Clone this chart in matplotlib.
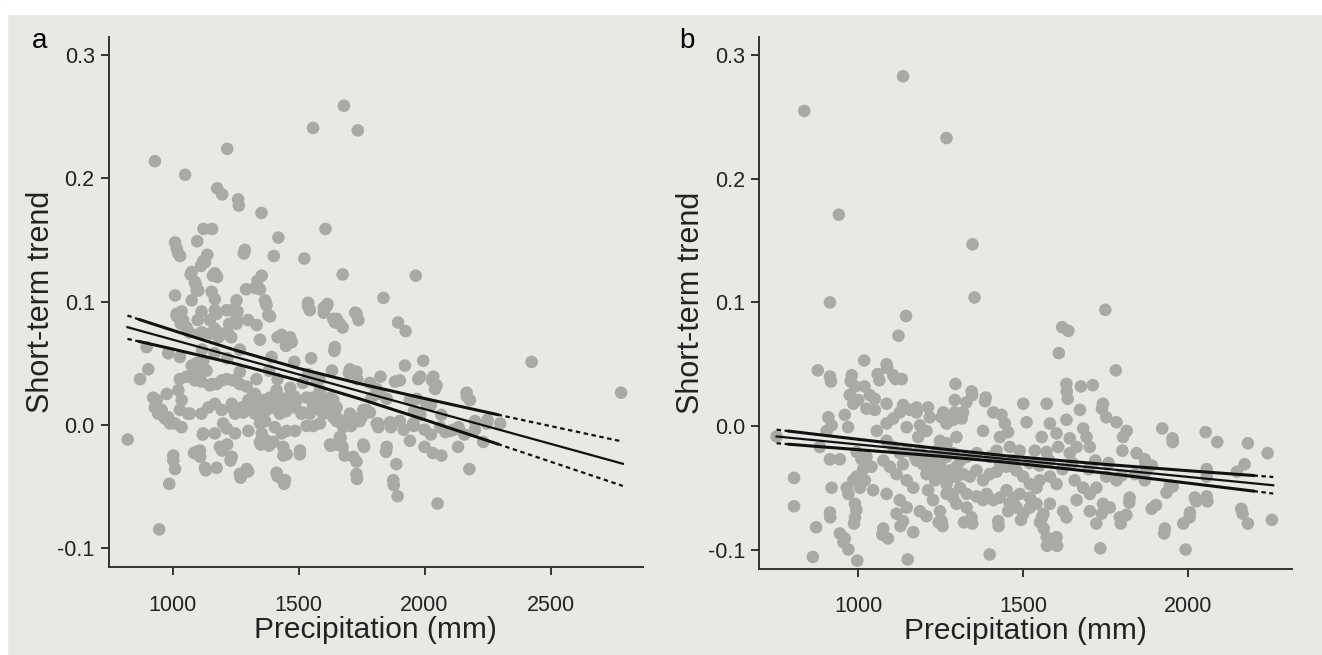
import matplotlib
matplotlib.use('Agg')
import matplotlib.pyplot as plt
from matplotlib.patches import Rectangle

plt.rcParams['font.family'] = ['Liberation Sans', 'DejaVu Sans']

# ---- panel a: precipitation (mm) vs short-term trend ----
a_x = [822, 930, 1050, 1217, 1558, 1680, 1735, 1177, 1197, 1260, 1263, 1353, 1010, 1017, 1030,
       1098, 1123, 1157, 1283, 1420, 1402, 1523, 1607, 1675, 1965, 1837, 2425, 2780, 1138, 1122,
       1113, 1072, 1092, 1102, 1160, 1177, 1337, 1347, 1327, 1292, 1370, 1387, 1538, 1545, 1600,
       1615, 1600, 1725, 1738, 1645, 1675, 1895, 1925, 1642, 1922, 1995, 2168, 2180, 2250, 2300,
       2133, 2178, 2052, 1878, 1893, 1888, 1847, 1730, 1732, 1683, 1760, 1627, 1505, 1443, 1440,
       1417, 1230, 1175, 1132, 1085, 1110, 1003, 1010, 987, 947, 1270, 1300, 1350, 1383, 1400,
       1197, 1217, 1120,
       897, 904, 871, 983, 1029, 923, 937, 930, 957, 970, 990, 977, 1023, 1036, 1029,
       1062, 1003, 1029, 1056, 1082, 1109, 1135, 1115, 1148, 1175, 1195, 1215, 1241, 1267, 1294,
       1096, 1109, 1122, 1016, 1042, 1056, 1109, 1148, 1175, 1215, 1254, 1148, 1175, 1201, 1221,
       1254, 1334, 1380, 1433, 1473, 1347, 1122, 1201, 1215, 1235, 1254, 1281, 1314, 1334, 1360,
       1387, 1413, 1426, 1400, 1347, 1301, 1109, 1096, 1188, 1235, 1129, 1267, 1294, 1413, 1446,
       1506, 1558, 1532, 1453, 1347, 1373, 1439, 1453, 1334, 1373, 1426, 1453, 1493, 1532, 1558,
       1585, 1611, 1638, 1651, 1677, 1664, 1625, 1690, 1730, 1770, 1810, 1863, 1717, 1730, 1757,
       1850, 1876, 1644, 1730, 1664, 1638, 1611, 1538,
       1023, 1129, 1076, 1168, 1089, 1096, 1010, 1076, 1155, 1168, 1254, 1287, 1354, 1367, 1373,
       1036, 1115, 1168, 1235, 1466, 1254, 1393, 1076, 1089, 1155, 1267,
       943, 983, 1010, 1036, 1069, 1115, 1142, 1168, 1195, 1235, 1248, 1274, 1301, 1327, 1393,
       1433, 1459, 1486, 1512, 1327, 1367, 1406, 1168, 1248, 1354, 1433, 1486,
       1651, 1704, 1730, 1902, 1975, 2035, 2048, 2167, 1810, 1823, 1790, 1850, 1942, 1969, 2008,
       1638, 1717, 1757, 1816, 1902, 1955, 2062, 2101, 2135, 2247, 1538, 1572, 1585, 1598, 1625,
       1651, 1558, 1545, 1598, 1651, 1704, 1743, 1585,
       1683, 1708, 1750, 1783, 1817, 1867, 1917, 1958, 2000, 2025, 2083, 2117, 2158, 2200, 2233,
       1667, 1675, 1650, 1942, 2000, 2033, 2067, 1983, 2030, 2042, 2025, 1958, 1983, 2067, 2200,
       1333, 1383, 1417, 1467, 1483, 1517, 1317, 1367, 1417, 1450, 1517, 1558, 1483, 1550, 1450,
       1417, 1467, 1583, 1633, 1700, 1733, 1783, 1825, 1883,
       1033, 1017, 1067, 1117, 1100, 1183, 1233, 1167, 1225, 1258, 1300, 1117, 1167, 1217, 1267]
a_y = [-0.012, 0.214, 0.203, 0.224, 0.241, 0.259, 0.239, 0.192, 0.187, 0.183, 0.178, 0.172, 0.148, 0.143, 0.137,
       0.149, 0.159, 0.159, 0.139, 0.152, 0.137, 0.135, 0.159, 0.122, 0.121, 0.103, 0.051, 0.026, 0.138, 0.133,
       0.129, 0.122, 0.114, 0.109, 0.121, 0.120, 0.117, 0.110, 0.111, 0.110, 0.099, 0.088, 0.099, 0.093, 0.095,
       0.098, 0.091, 0.091, 0.085, 0.083, 0.079, 0.083, 0.076, 0.060, 0.048, 0.052, 0.023, 0.020, 0.004, 0.001,
       -0.018, -0.036, -0.064, -0.049, -0.058, -0.032, -0.022, -0.030, -0.044, -0.025, -0.018, -0.017, -0.024, -0.048, -0.025,
       -0.042, -0.029, -0.035, -0.037, -0.023, -0.026, -0.029, -0.036, -0.048, -0.085, -0.043, -0.038, -0.016, -0.017, -0.014,
       -0.021, -0.016, -0.008,
       0.063, 0.045, 0.037, 0.058, 0.055, 0.022, 0.020, 0.014, 0.012, 0.005, 0.001, 0.025, 0.028, 0.020, 0.012,
       0.009, -0.025, 0.037, 0.039, 0.040, 0.043, 0.044, 0.035, 0.032, 0.033, 0.036, 0.037, 0.036, 0.033, 0.031,
       0.050, 0.047, 0.052, 0.090, 0.085, 0.079, 0.074, 0.085, 0.090, 0.093, 0.090, 0.074, 0.075, 0.074, 0.074,
       0.082, 0.081, 0.089, 0.073, 0.067, 0.069, -0.007, 0.001, -0.003, 0.014, 0.012, 0.010, 0.013, 0.016, 0.020,
       0.022, 0.028, 0.022, 0.014, 0.001, -0.005, -0.021, -0.022, -0.018, -0.026, -0.035, -0.040, -0.036, -0.039, -0.045,
       -0.021, -0.001, -0.001, -0.005, -0.014, -0.013, -0.018, -0.024, 0.009, 0.012, 0.009, 0.020, 0.020, 0.022, 0.014,
       0.012, 0.012, 0.020, 0.006, -0.002, -0.010, -0.016, 0.003, 0.003, 0.012, 0.001, 0.002, -0.026, -0.040, -0.016,
       -0.018, -0.045, 0.063, 0.090, 0.082, 0.086, 0.096, 0.096,
       0.139, 0.132, 0.124, 0.123, 0.116, 0.109, 0.105, 0.101, 0.108, 0.102, 0.101, 0.142, 0.121, 0.101, 0.097,
       0.092, 0.092, 0.093, 0.093, 0.069, 0.085, 0.055, 0.048, 0.036, 0.033, 0.043,
       0.009, 0.006, 0.001, -0.002, 0.009, 0.009, 0.014, 0.017, 0.012, 0.017, 0.009, 0.014, 0.020, 0.025, 0.017,
       0.020, 0.022, 0.014, 0.009, 0.009, 0.003, -0.002, -0.007, -0.007, -0.007, -0.007, -0.005,
       0.086, 0.045, 0.043, 0.036, 0.037, 0.039, 0.032, 0.026, 0.029, 0.025, 0.022, 0.021, 0.020, 0.021, 0.017,
       0.006, 0.006, 0.012, 0.001, 0.003, 0.001, -0.002, -0.005, -0.002, 0.001, 0.041, 0.036, 0.028, 0.020, 0.022,
       0.014, 0.022, 0.009, 0.009, 0.003, 0.009, 0.003, 0.001,
       0.003, -0.001, 0.006, 0.010, -0.002, -0.002, -0.004, -0.001, -0.004, -0.008, -0.006, -0.004, -0.008, -0.004, -0.014,
       -0.011, -0.018, -0.016, -0.013, -0.018, -0.023, -0.025, 0.039, 0.036, 0.029, 0.016, 0.011, 0.008, 0.008, 0.003,
       0.037, 0.044, 0.037, 0.030, 0.023, 0.034, 0.023, 0.020, 0.016, 0.011, 0.010, 0.016, 0.051, 0.054, 0.064,
       0.071, 0.071, 0.037, 0.044, 0.042, 0.037, 0.034, 0.039, 0.035,
       0.082, 0.088, 0.075, 0.075, 0.085, 0.071, 0.071, 0.078, 0.082, 0.092, 0.085, 0.061, 0.058, 0.054, 0.061]

# fitted line and confidence band, panel a
a_fit_x = [821, 2787]
a_fit_y = [0.0792, -0.0317]
a_band_x = [821, 870, 1000, 1250, 1500, 1750, 2000, 2290, 2500, 2787]
a_upper = [0.0887, 0.0853, 0.0767, 0.0605, 0.0458, 0.0330, 0.0213, 0.0082, -0.0011, -0.0137]
a_lower = [0.0697, 0.0675, 0.0615, 0.0495, 0.0360, 0.0206, 0.0041, -0.0156, -0.0300, -0.0497]
a_solid = (1, 7)   # band looks solid between these band_x indices

# ---- panel b ----
b_x = [752, 836, 1136, 1268, 941, 914, 1347, 1353, 1145, 1122, 1750, 1619, 1638, 1609, 1782,
       877, 917, 1018, 1088, 1059, 1064, 1113, 1132, 977, 990, 1019, 1295, 1346, 1385, 1676,
       1712, 1633, 1636, 1740, 1923, 1955, 2055, 2090, 2183, 2243, 2173, 2150, 2060, 2026, 1987,
       2006, 1994, 1929, 1904, 1891, 1823, 1797, 1814, 1735, 2167, 2183, 2256, 1936, 1955, 1872,
       1891, 1604, 1573, 1563, 1558, 1399, 1426, 1150, 997, 862, 872, 805, 805, 915, 955,
       970, 987, 994, 1073, 1090, 1167, 1128, 1256, 1244, 1346, 1321, 1455, 1474, 1494,
       914, 1086, 980, 1106, 974, 985, 959, 969, 1000, 1035, 1050, 1025, 1050, 909, 919,
       904, 883, 914, 944, 1010, 1015, 995, 985, 1020, 1005, 919, 965, 970, 990, 914,
       990, 944, 959, 1045, 1086, 1076, 995, 1025, 1040, 1056, 1086, 1106, 1126, 1157, 1177,
       1147, 1187, 1207, 1182, 1086, 1106, 1126, 1147, 1172, 1136, 1076, 1096, 1116, 1147, 1167,
       1126, 1147, 1116, 1136, 1187, 1207, 1227, 1248, 1253, 1212, 1233, 1253, 1268, 1288, 1283,
       1298, 1268, 1238, 1268, 1298, 1217, 1253, 1268, 1288, 1293, 1293,
       1344, 1318, 1328, 1314, 1387, 1410, 1435, 1445, 1455, 1430, 1379, 1420, 1460, 1490, 1501,
       1511, 1572, 1557, 1582, 1602, 1632, 1673, 1743, 1753, 1784, 1815, 1804, 1632, 1642, 1683,
       1693, 1663, 1703, 1642, 1536, 1572, 1607,
       1278, 1298, 1318, 1339, 1359, 1379, 1399, 1420, 1450, 1480, 1501, 1521, 1541, 1551, 1582,
       1602, 1309, 1329, 1359, 1390, 1410, 1430, 1450, 1471, 1491, 1521, 1460, 1481, 1501, 1521,
       1329, 1298, 1344, 1425, 1379,
       1541, 1562, 1552, 1582, 1572, 1602, 1622, 1632, 1663, 1657, 1683, 1703, 1723, 1743, 1764,
       1703, 1739, 1723, 1794, 1824, 1753, 1784,
       1954, 1870, 1870, 1946, 2058, 2058, 2022, 2058, 2007, 1931, 2163,
       1248, 1227, 1207, 1197, 1177, 1187, 1207, 1227, 1248, 1288, 1268, 1288, 1086, 1136, 1177,
       1258, 1212, 1845, 1802, 1875, 1840,
       1400, 1430, 1470, 1520, 1550, 1580, 1620, 1650, 1700, 1720, 1760, 1800, 1330, 1360, 1310]
b_y = [-0.0085, 0.255, 0.283, 0.233, 0.171, 0.100, 0.147, 0.104, 0.089, 0.073, 0.094, 0.080, 0.077, 0.059, 0.045,
       0.045, 0.036, 0.053, 0.047, 0.042, 0.037, 0.038, 0.038, 0.036, 0.032, 0.032, 0.034, 0.025, 0.020, 0.032,
       0.033, 0.028, 0.022, 0.014, -0.002, -0.013, -0.005, -0.013, -0.014, -0.022, -0.031, -0.037, -0.061, -0.061, -0.079,
       -0.074, -0.100, -0.087, -0.064, -0.067, -0.062, -0.079, -0.072, -0.099, -0.071, -0.079, -0.076, -0.054, -0.049, -0.030,
       -0.032, -0.097, -0.097, -0.083, -0.074, -0.104, -0.081, -0.108, -0.109, -0.106, -0.082, -0.065, -0.042, -0.074, -0.094,
       -0.100, -0.079, -0.068, -0.088, -0.091, -0.086, -0.081, -0.081, -0.078, -0.079, -0.078, -0.069, -0.064, -0.076,
       0.040, 0.050, 0.041, 0.041, 0.025, 0.018, 0.009, -0.001, 0.021, 0.025, 0.022, 0.014, 0.013, 0.007, 0.0005,
       -0.004, -0.017, -0.027, -0.027, -0.027, -0.035, -0.041, -0.044, -0.044, -0.050, -0.050, -0.050, -0.055, -0.063, -0.070,
       -0.074, -0.087, -0.091, -0.052, -0.055, -0.083, -0.021, -0.025, -0.033, -0.004, 0.002, 0.006, 0.011, 0.013, 0.011,
       -0.001, 0.0005, -0.004, -0.009, -0.012, -0.017, -0.022, -0.020, -0.025, -0.031, -0.028, -0.033, -0.039, -0.044, -0.050,
       -0.060, -0.066, -0.071, -0.077, -0.069, -0.073, -0.060, -0.069, -0.077, -0.052, -0.044, -0.039, -0.047, -0.041, -0.055,
       -0.033, -0.025, -0.020, -0.014, -0.009, 0.007, 0.007, 0.002, 0.005, 0.021, 0.011,
       0.028, 0.011, 0.019, 0.006, 0.023, 0.011, 0.009, 0.002, -0.005, -0.009, -0.004, -0.020, -0.017, -0.020, 0.018,
       0.003, 0.018, -0.009, 0.002, -0.006, 0.034, 0.013, 0.018, 0.007, 0.003, -0.004, -0.009, 0.005, -0.010, -0.002,
       -0.009, -0.017, -0.017, -0.022, -0.020, -0.021, -0.017,
       -0.036, -0.041, -0.039, -0.041, -0.036, -0.044, -0.039, -0.037, -0.033, -0.036, -0.041, -0.047, -0.050, -0.044, -0.041,
       -0.047, -0.050, -0.055, -0.057, -0.055, -0.060, -0.058, -0.052, -0.058, -0.055, -0.058, -0.063, -0.066, -0.071, -0.066,
       -0.066, -0.063, -0.074, -0.077, -0.060,
       -0.063, -0.071, -0.078, -0.063, -0.090, -0.090, -0.069, -0.074, -0.060, -0.044, -0.050, -0.055, -0.050, -0.063, -0.066,
       -0.069, -0.071, -0.079, -0.074, -0.058, -0.041, -0.044,
       -0.010, -0.027, -0.044, -0.048, -0.035, -0.041, -0.058, -0.057, -0.070, -0.083, -0.067,
       -0.031, -0.036, -0.039, -0.031, -0.028, -0.020, -0.025, -0.028, -0.012, -0.022, -0.055, -0.058, 0.018, 0.017, 0.015,
       0.011, 0.015, -0.022, -0.020, -0.036, -0.039,
       -0.025, -0.030, -0.028, -0.030, -0.032, -0.028, -0.035, -0.030, -0.035, -0.028, -0.030, -0.040, -0.025, -0.022, -0.028]

b_fit_x = [752, 2260]
b_fit_y = [-0.0085, -0.0480]
b_band_x = [752, 790, 1000, 1250, 1450, 1750, 2000, 2200, 2260]
b_upper = [-0.0030, -0.0042, -0.0108, -0.0185, -0.0242, -0.0311, -0.0362, -0.0401, -0.0413]
b_lower = [-0.0140, -0.0148, -0.0192, -0.0245, -0.0294, -0.0381, -0.0462, -0.0527, -0.0547]
b_solid = (1, 7)

y_ticks = [-0.1, 0.0, 0.1, 0.2, 0.3]
y_labels = ['-0.1', '0.0', '0.1', '0.2', '0.3']

bg = '#e8e9e5'
dot = '#a8aaa5'
ink = '#222222'

fig = plt.figure(figsize=(13.22, 6.55), dpi=100, facecolor=bg)
fig.patches.append(Rectangle((0, 1 - 14 / 655), 1, 14 / 655, transform=fig.transFigure,
                             color='white', zorder=0))
fig.patches.append(Rectangle((0, 0), 7 / 1322, 1, transform=fig.transFigure,
                             color='white', zorder=0))


def draw_panel(ax, xs, ys, fit_x, fit_y, bx, up, lo, solid, xlim, xticks, letter, lx):
    ax.set_facecolor(bg)
    ax.scatter(xs, ys, s=82, color=dot, edgecolors='none', zorder=2)
    ax.plot(fit_x, fit_y, color='#111111', lw=1.6, zorder=3)
    i0, i1 = solid
    for band in (up, lo):
        # the band looks solid where data are dense, dashed at the ends
        ax.plot(bx[:i0 + 1], band[:i0 + 1], color='#111111', lw=1.6, ls=(0, (2, 1.6)), zorder=3)
        ax.plot(bx[i0:i1 + 1], band[i0:i1 + 1], color='#111111', lw=2.2, zorder=3)
        ax.plot(bx[i1:], band[i1:], color='#111111', lw=1.6, ls=(0, (2, 1.6)), zorder=3)
    ax.set_xlim(*xlim)
    ax.set_ylim(-0.1155, 0.3148)
    ax.set_xticks(xticks)
    ax.set_xticklabels([str(t) for t in xticks])
    ax.set_yticks(y_ticks)
    ax.set_yticklabels(y_labels)
    for s in ('top', 'right'):
        ax.spines[s].set_visible(False)
    for s in ('left', 'bottom'):
        ax.spines[s].set_color('#333333')
        ax.spines[s].set_linewidth(1.4)
    ax.tick_params(axis='both', direction='out', length=6, width=1.4, color='#333333',
                   labelsize=15.5, labelcolor=ink)
    ax.tick_params(axis='x', pad=14)
    ax.tick_params(axis='y', pad=4)
    ax.set_xlabel('Precipitation (mm)', fontsize=21.5, color=ink, labelpad=0)
    ax.set_ylabel('Short-term trend', fontsize=22, color=ink, labelpad=1)
    fig.text(lx, 1 - 48 / 655, letter, fontsize=20, color='black', va='baseline')


ax_a = fig.add_axes([0.0821, 0.1344, 0.4043, 0.809])
draw_panel(ax_a, a_x, a_y, a_fit_x, a_fit_y, a_band_x, a_upper, a_lower, a_solid,
           (746, 2867), [1000, 1500, 2000, 2500], 'a', 32 / 1322)

ax_b = fig.add_axes([0.5740, 0.1318, 0.4033, 0.8117])
draw_panel(ax_b, b_x, b_y, b_fit_x, b_fit_y, b_band_x, b_upper, b_lower, b_solid,
           (698, 2317), [1000, 1500, 2000], 'b', 679 / 1322)

fig.savefig('out.png', dpi=100, facecolor=bg)
